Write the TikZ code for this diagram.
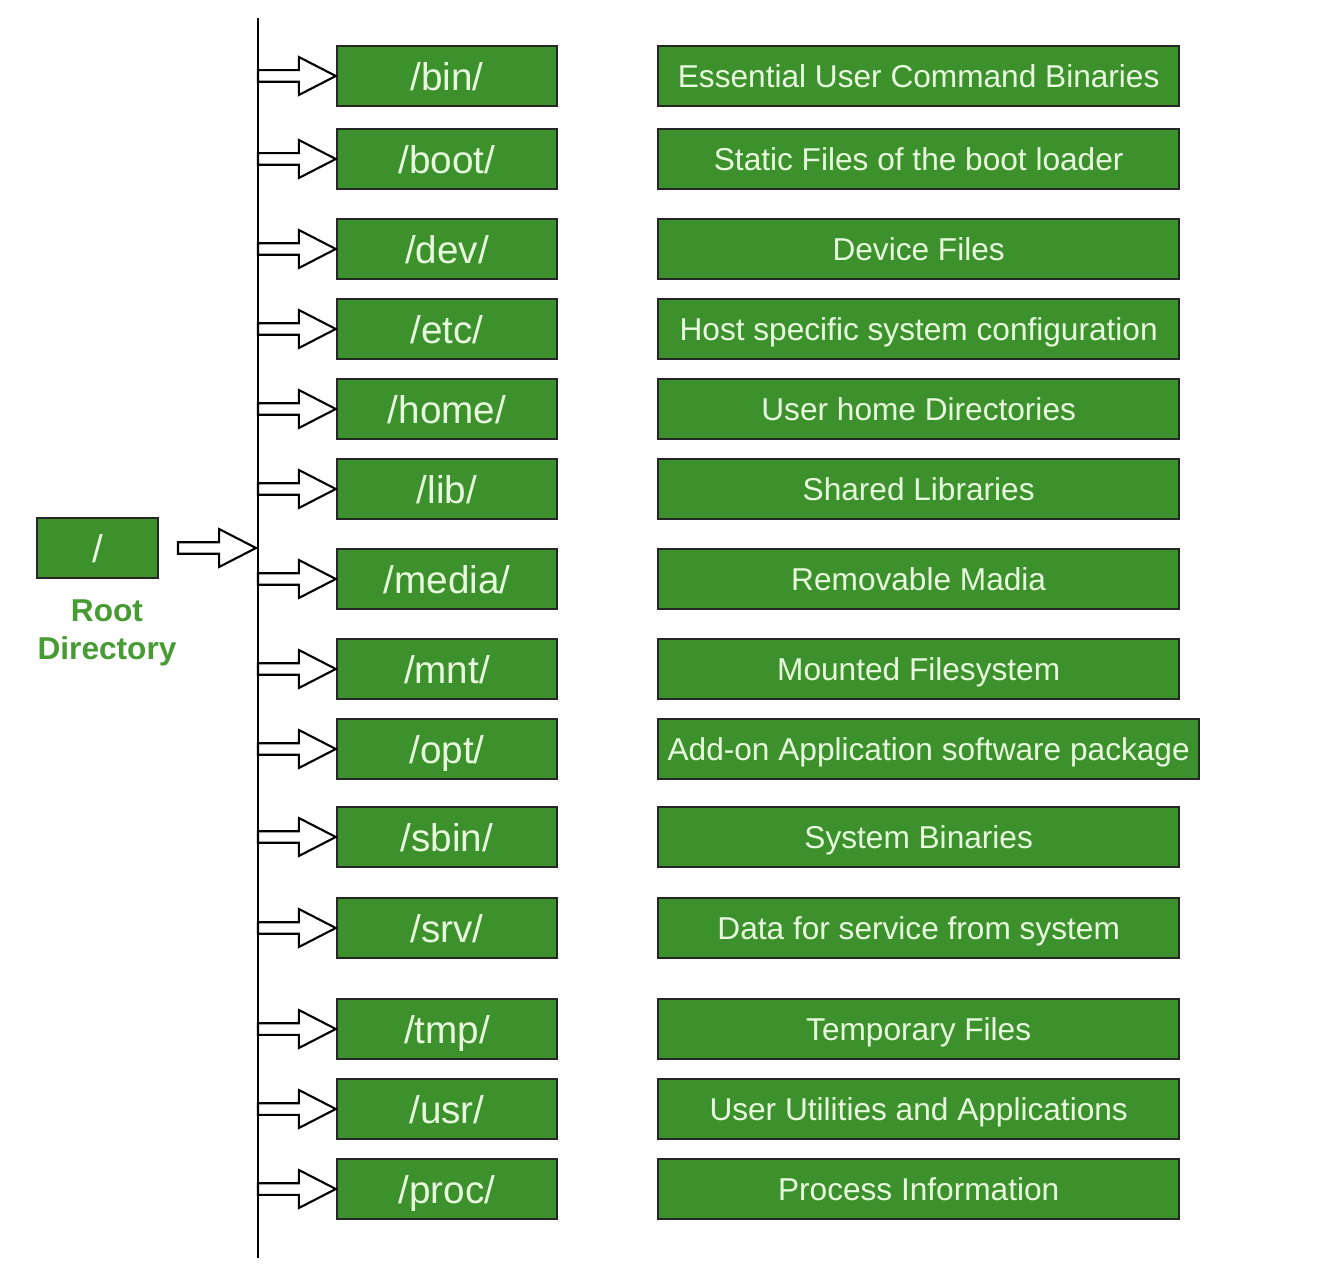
\documentclass[tikz,border=0pt]{standalone}
\usepackage{fontspec}
\setmainfont{Liberation Sans}
\usetikzlibrary{calc}

\definecolor{boxgreen}{RGB}{61,145,45}
\definecolor{boxtext}{RGB}{232,250,222}
\definecolor{labelgreen}{RGB}{70,155,50}

\tikzset{
  dirbox/.style={draw=black!85, line width=1.4pt, fill=boxgreen, text=boxtext,
    minimum width=4.4cm, minimum height=1.2cm, text height=16pt, text depth=0pt,
    font=\fontsize{22}{26}\selectfont},
  descbox/.style={draw=black!85, line width=1.4pt, fill=boxgreen, text=boxtext,
    minimum height=1.2cm, anchor=west, inner sep=0pt, text height=13pt, text depth=0pt,
    font=\fontsize{18}{22}\selectfont},
  hollow/.style={draw=black, line width=1.2pt, fill=white, line join=miter},
  trunk/.style={draw=black, line width=1.5pt}
}

% hollow block arrow from #1 to #2 (horizontal)
\newcommand{\hollowarrow}[2]{%
  \draw[hollow] let \p1=(#1), \p2=(#2) in
    (\x1,\y1+3.3pt) -- (\x2-21pt,\y1+3.3pt) -- (\x2-21pt,\y1+10.8pt) -- (\x2,\y1)
    -- (\x2-21pt,\y1-10.8pt) -- (\x2-21pt,\y1-3.3pt) -- (\x1,\y1-3.3pt) -- cycle;}

\begin{document}
\begin{tikzpicture}[x=0.02cm, y=-0.02cm]
    \useasboundingbox (0,0) rectangle (1338,1266);

    % linea verticale
    \coordinate (top) at (258,18);
    \coordinate (bottom) at (258,1258);
    \draw[trunk] (top) -- (bottom);

    % radice
    \node[dirbox, minimum width=2.42cm] (root) at (97.5,548) {/};
    \node[text=labelgreen, align=center, font=\fontsize{18}{21.5}\selectfont\bfseries]
        (rootlabel) at (107,633) {Root\\Directory};
    \coordinate (rootarrow) at (178,548);
    \coordinate (trunk-root) at (256,548);
    \hollowarrow{rootarrow}{trunk-root}

    % directory e descrizioni
    \foreach \y/\dir/\bw/\desc in {
        76/bin/10.42/Essential User Command Binaries,
        159/boot/10.42/Static Files of the boot loader,
        249/dev/10.42/Device Files,
        329/etc/10.42/Host specific system configuration,
        409/home/10.42/User home Directories,
        489/lib/10.42/Shared Libraries,
        579/media/10.42/Removable Madia,
        669/mnt/10.42/Mounted Filesystem,
        749/opt/10.82/Add-on Application software package,
        837/sbin/10.42/System Binaries,
        928/srv/10.42/Data for service from system,
        1029/tmp/10.42/Temporary Files,
        1109/usr/10.42/User Utilities and Applications,
        1189/proc/10.42/Process Information}{
        \node[dirbox] (\dir) at (447,\y) {/\dir/};
        \node[descbox, minimum width=\bw cm] (desc-\dir) at (657,\y) {\desc};
        \coordinate (trunk-\dir) at (258,\y);
        \hollowarrow{trunk-\dir}{\dir.west}
    }

\end{tikzpicture}
\end{document}
